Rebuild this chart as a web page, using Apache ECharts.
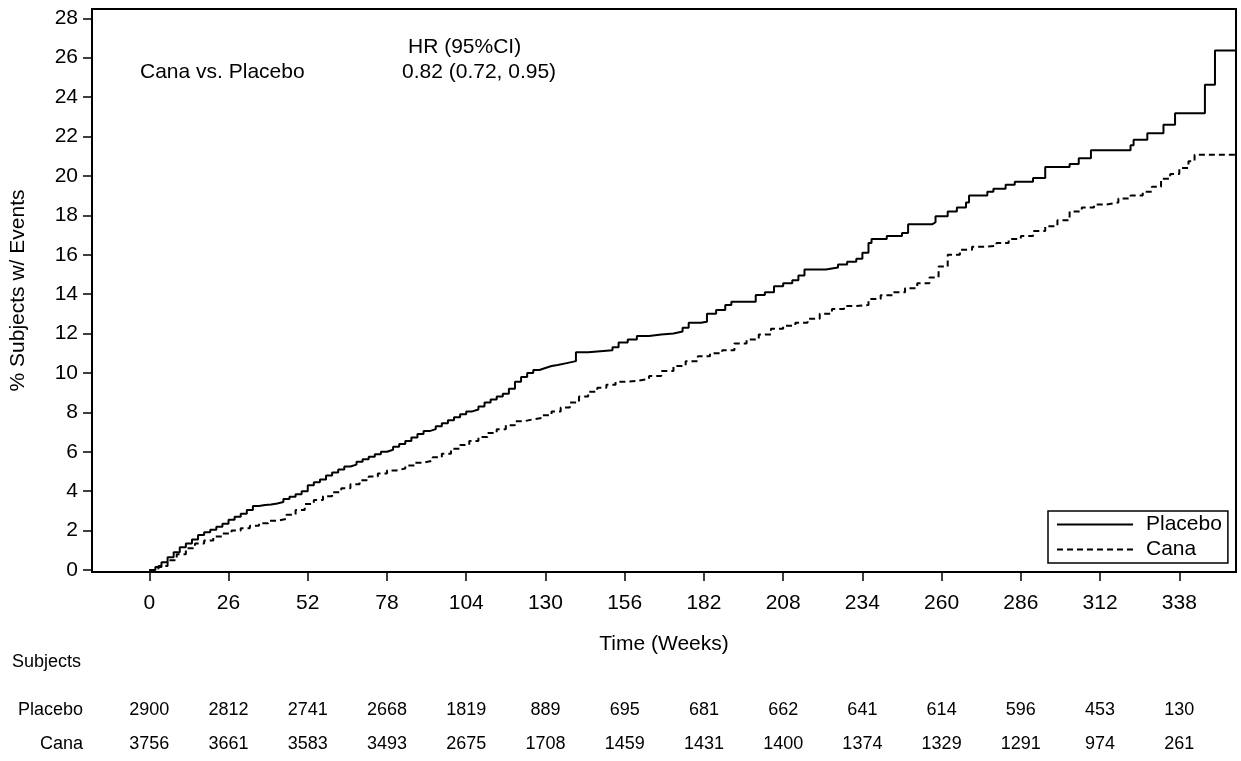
<!DOCTYPE html>
<html>
<head>
<meta charset="utf-8">
<script src="https://cdn.jsdelivr.net/npm/echarts@6/dist/echarts.min.js"></script>
<style>
html,body{margin:0;padding:0;background:#fff;}
#chart{width:1241px;height:761px;}
</style>
</head>
<body>
<div id="chart"></div>
<script>
// ---- data ----
const xTicks = [0, 26, 52, 78, 104, 130, 156, 182, 208, 234, 260, 286, 312, 338];
const yTicks = [0, 2, 4, 6, 8, 10, 12, 14, 16, 18, 20, 22, 24, 26, 28];
const groups = ['Placebo', 'Cana'];
const atRiskPlacebo = [2900, 2812, 2741, 2668, 1819, 889, 695, 681, 662, 641, 614, 596, 453, 130];
const atRiskCana = [3756, 3661, 3583, 3493, 2675, 1708, 1459, 1431, 1400, 1374, 1329, 1291, 974, 261];
const placeboWeeks = [0,2,4,6,8,10,12,14,16,18,20,22,24,26,28,30,32,34,36,38,40,42,44,46,48,50,52,54,56,58,60,62,64,66,68,70,72,74,76,78,80,82,84,86,88,90,92,94,96,98,100,102,104,106,108,110,112,114,116,118,120,122,124,126,128,130,132,134,137,140,144,148,152,154,157,160,164,168,172,175,177,181,183,186,189,191,199,202,205,208,211,213,215,222,226,229,232,234,236,237,242,247,249,257,258,262,265,268,269,275,277,281,284,290,294,302,305,309,322,323,327.5,332.8,336.6,346.4,349.7,356.6];
const placeboPct = [0,0.15,0.4,0.65,0.9,1.15,1.35,1.55,1.78,1.92,2.05,2.2,2.35,2.55,2.7,2.85,3.05,3.25,3.3,3.32,3.38,3.45,3.6,3.72,3.85,4.0,4.3,4.45,4.6,4.8,4.95,5.1,5.25,5.35,5.5,5.62,5.75,5.88,6.0,6.1,6.25,6.4,6.55,6.72,6.9,7.05,7.15,7.3,7.45,7.6,7.75,7.9,8.05,8.15,8.3,8.5,8.65,8.8,8.95,9.2,9.55,9.8,10.0,10.15,10.25,10.35,10.4,10.5,10.6,11.05,11.1,11.15,11.3,11.55,11.7,11.88,11.95,12.0,12.1,12.3,12.55,12.6,13.0,13.2,13.45,13.62,13.96,14.1,14.4,14.55,14.7,14.95,15.25,15.35,15.5,15.65,15.8,16.1,16.6,16.8,16.95,17.1,17.55,17.65,17.95,18.2,18.4,18.65,19.0,19.2,19.35,19.55,19.7,19.9,20.45,20.6,20.9,21.3,21.55,21.83,22.17,22.6,23.18,24.62,26.36,26.36];
const canaWeeks = [0,3,6,9,12,15,18,21,24,27,30,33,36,39,42,45,48,51,54,57,60,63,66,69,72,75,78,81,84,87,90,93,96,99,102,105,108,111,114,117,120,123,126,129,132,135,138,141,144,147,150,153,156,160,164,168,172,176,180,184,188,192,196,200,204,208,212,216,220,224,228,232,236,240,244,248,252,256,259,262,266,270,274,278,282,286,290,294,298,302,306,310,314,318,322,326,329,332,335,338,341,343,356.6];
const canaPct = [0,0.2,0.5,0.8,1.1,1.35,1.5,1.7,1.85,2.0,2.12,2.25,2.38,2.5,2.6,2.8,3.05,3.35,3.55,3.75,3.95,4.15,4.35,4.55,4.75,4.9,5.05,5.15,5.3,5.45,5.55,5.72,5.9,6.15,6.35,6.55,6.75,6.95,7.15,7.35,7.55,7.65,7.72,7.85,8.05,8.25,8.5,8.8,9.05,9.25,9.4,9.55,9.6,9.7,9.85,10.1,10.35,10.6,10.85,11.0,11.15,11.5,11.7,11.95,12.25,12.4,12.55,12.75,13.0,13.25,13.4,13.45,13.75,13.95,14.1,14.3,14.55,14.85,15.4,16.0,16.25,16.4,16.45,16.6,16.8,16.95,17.2,17.45,17.75,18.2,18.4,18.55,18.65,18.85,19.0,19.2,19.45,19.85,20.1,20.4,20.75,21.07,21.07];

// ---- build ----
const FONT = "'Liberation Sans', Arial, sans-serif";
const pair = (xs, ys) => xs.map((x, i) => [x, ys[i]]);
const tableData = [];
xTicks.forEach((w, i) => {
  tableData.push([w, groups[0], atRiskPlacebo[i]]);
  tableData.push([w, groups[1], atRiskCana[i]]);
});

const chart = echarts.init(document.getElementById('chart'), null, {renderer: 'canvas'});
chart.setOption({
  backgroundColor: '#ffffff',
  animation: false,
  textStyle: {fontFamily: FONT, color: '#000'},
  grid: [
    {left: 92, right: 5, top: 9, bottom: 189, show: true, borderColor: '#000', borderWidth: 2, backgroundColor: 'transparent'},
    {left: 92, right: 5, top: 693, height: 76}
  ],
  xAxis: [
    {
      type: 'value', gridIndex: 0, min: -18.8, max: 356.6,
      axisLine: {show: true, onZero: false, lineStyle: {color: '#000', width: 2}},
      axisTick: {show: true, inside: false, length: 9, lineStyle: {color: '#000', width: 1.5}, customValues: xTicks},
      axisLabel: {fontSize: 21, color: '#000', margin: 21, fontFamily: FONT, customValues: xTicks},
      splitLine: {show: false},
      name: 'Time (Weeks)', nameLocation: 'middle', nameGap: 62,
      nameTextStyle: {fontSize: 21, color: '#000', fontFamily: FONT}
    },
    {
      type: 'value', gridIndex: 1, min: -18.8, max: 356.6, show: false
    }
  ],
  yAxis: [
    {
      type: 'value', gridIndex: 0, min: -0.1, max: 28.47,
      axisLine: {show: true, onZero: false, lineStyle: {color: '#000', width: 2}},
      axisTick: {show: true, inside: false, length: 9, lineStyle: {color: '#000', width: 1.5}, customValues: yTicks},
      axisLabel: {fontSize: 21, color: '#000', margin: 14, fontFamily: FONT, customValues: yTicks},
      splitLine: {show: false},
      name: '% Subjects w/ Events', nameLocation: 'middle', nameGap: 63, nameRotate: 90,
      nameTextStyle: {fontSize: 21, color: '#000', fontFamily: FONT}
    },
    {
      type: 'category', gridIndex: 1, data: groups, inverse: true,
      axisLine: {show: false}, axisTick: {show: false}, splitLine: {show: false},
      axisLabel: {fontSize: 18, color: '#000', margin: 9, fontFamily: FONT}
    }
  ],
  legend: {
    orient: 'vertical', left: 1048, top: 511,
    padding: [3, 6, 3, 8], itemGap: 4, itemWidth: 76, itemHeight: 14,
    borderColor: '#000', borderWidth: 1.5, backgroundColor: '#fff',
    itemStyle: {opacity: 0, borderWidth: 0},
    textStyle: {fontSize: 21, color: '#000', fontFamily: FONT, padding: [0, 0, 0, 8]},
    data: groups
  },
  graphic: [
    {type: 'text', left: 140, top: 62, style: {text: 'Cana vs. Placebo', fontSize: 21, fontFamily: FONT, fill: '#000'}},
    {type: 'text', left: 408, top: 37, style: {text: 'HR (95%CI)', fontSize: 21, fontFamily: FONT, fill: '#000'}},
    {type: 'text', left: 402, top: 62, style: {text: '0.82 (0.72, 0.95)', fontSize: 21, fontFamily: FONT, fill: '#000'}},
    {type: 'text', left: 12, top: 653, style: {text: 'Subjects', fontSize: 18, fontFamily: FONT, fill: '#000'}}
  ],
  series: [
    {
      name: groups[0], type: 'line', step: 'end', xAxisIndex: 0, yAxisIndex: 0,
      data: pair(placeboWeeks, placeboPct), symbol: 'none',
      lineStyle: {color: '#000', width: 2, type: 'solid'}, itemStyle: {color: 'rgba(0,0,0,0)', borderWidth: 0}
    },
    {
      name: groups[1], type: 'line', step: 'end', xAxisIndex: 0, yAxisIndex: 0,
      data: pair(canaWeeks, canaPct), symbol: 'none',
      lineStyle: {color: '#000', width: 2, type: [6, 4]}, itemStyle: {color: 'rgba(0,0,0,0)', borderWidth: 0}
    },
    {
      name: 'atrisk', type: 'scatter', xAxisIndex: 1, yAxisIndex: 1,
      data: tableData, symbolSize: 1, itemStyle: {color: 'rgba(0,0,0,0)', opacity: 1},
      label: {show: true, position: 'inside', fontSize: 18, color: '#000', opacity: 1, textBorderWidth: 0, fontFamily: FONT,
        formatter: p => String(p.value[2])},
      silent: true
    }
  ]
});
</script>
</body>
</html>
